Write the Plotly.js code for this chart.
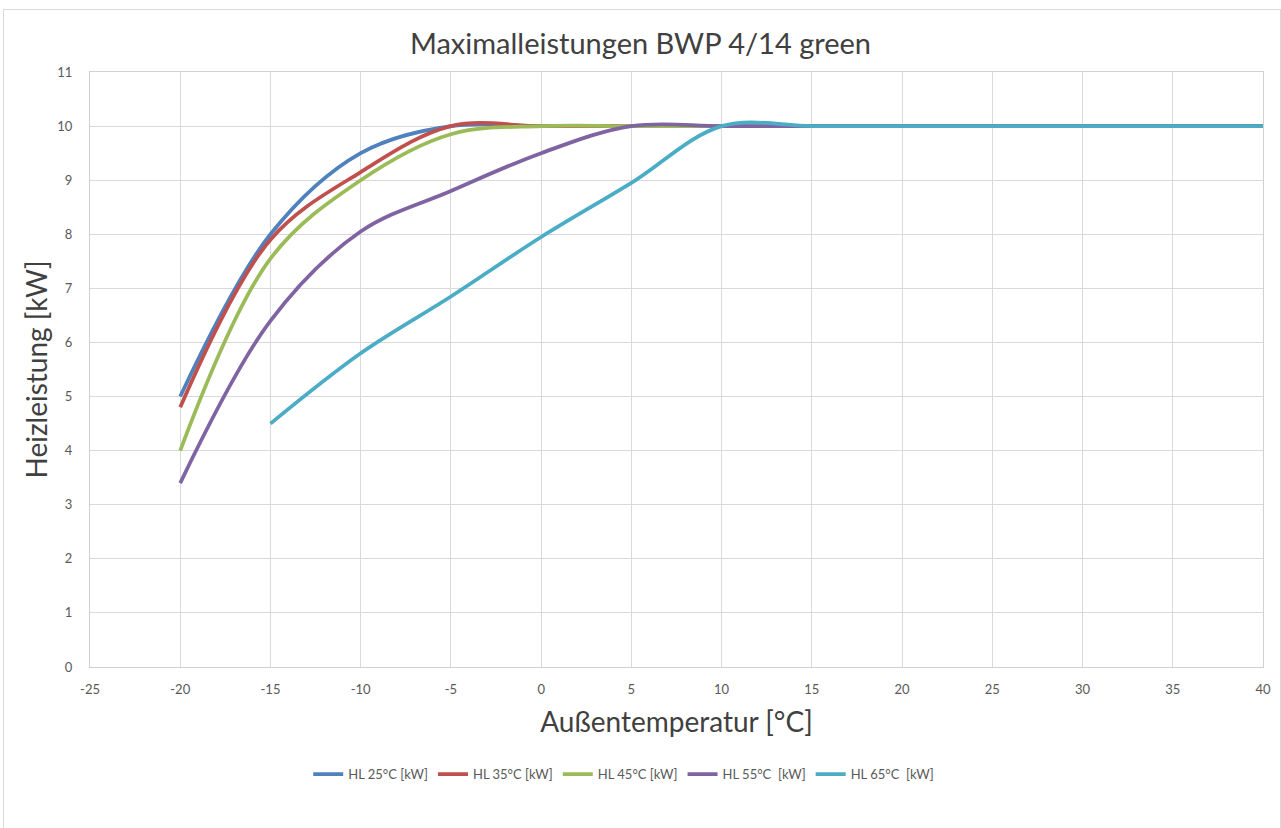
<!DOCTYPE html>
<html>
<head>
<meta charset="utf-8">
<script src="https://cdn.plot.ly/plotly-3.0.1.min.js"></script>
<style>
  html, body { margin: 0; padding: 0; background: #ffffff; }
  #frame { position: absolute; left: 3px; top: 9px; width: 1278px; height: 830px; border: 1px solid #d9d9d9; box-sizing: border-box; }
  #chart { position: absolute; left: 0; top: 0; width: 1281px; height: 828px; }
</style>
</head>
<body>
<div id="frame"></div>
<div id="chart"></div>
<script>
// Außentemperatur [°C]
const temps = [-20, -15, -10, -5, 0, 5, 10, 15, 20, 25, 30, 35, 40];
// Heizleistung [kW]
const hl25 = [5.0, 8.0, 9.5, 10.0, 10.0, 10.0, 10.0, 10.0, 10.0, 10.0, 10.0, 10.0, 10.0];
const hl35 = [4.8, 7.9, 9.15, 10.0, 10.0, 10.0, 10.0, 10.0, 10.0, 10.0, 10.0, 10.0, 10.0];
const hl45 = [4.0, 7.55, 9.0, 9.85, 10.0, 10.0, 10.0, 10.0, 10.0, 10.0, 10.0, 10.0, 10.0];
const hl55 = [3.4, 6.4, 8.05, 8.8, 9.5, 10.0, 10.0, 10.0, 10.0, 10.0, 10.0, 10.0, 10.0];
const hl65 = [null, 4.5, 5.8, 6.85, 7.95, 8.95, 10.0, 10.0, 10.0, 10.0, 10.0, 10.0, 10.0];

const seriesNames = ["HL 25°C [kW]", "HL 35°C [kW]", "HL 45°C [kW]", "HL 55°C  [kW]", "HL 65°C  [kW]"];
const seriesValues = [hl25, hl35, hl45, hl55, hl65];
const seriesColors = ["#4f81bd", "#c0504d", "#9bbb59", "#8064a2", "#4bacc6"];

const xTicks = [-25, -20, -15, -10, -5, 0, 5, 10, 15, 20, 25, 30, 35, 40];
const yTicks = [0, 1, 2, 3, 4, 5, 6, 7, 8, 9, 10, 11];

const traces = seriesValues.map((vals, i) => ({
  x: temps,
  y: vals,
  type: 'scatter',
  mode: 'lines',
  name: seriesNames[i],
  line: { color: seriesColors[i], width: 3.75, shape: 'spline', smoothing: 1 },
  hoverinfo: 'x+y+name'
}));

const font = "Lato, 'Open Sans', sans-serif";

const layout = {
  width: 1281,
  height: 828,
  paper_bgcolor: 'rgba(0,0,0,0)',
  plot_bgcolor: 'rgba(0,0,0,0)',
  margin: { l: 90, r: 18, t: 72, b: 161 },
  font: { family: font, color: '#595959' },
  title: {
    text: 'Maximalleistungen BWP 4/14 green',
    font: { family: font, size: 29, color: '#404040' },
    x: 0.5, xanchor: 'center',
    y: 1 - 44 / 828, yanchor: 'middle'
  },
  xaxis: {
    range: [-25, 40],
    tickvals: xTicks,
    ticktext: xTicks.map(String),
    showgrid: true,
    gridcolor: '#d9d9d9',
    gridwidth: 1,
    zeroline: false,
    showline: true,
    mirror: true,
    linecolor: '#d0d0d0',
    linewidth: 1,
    ticks: '',
    ticklabelstandoff: 10,
    tickfont: { family: font, size: 13, color: '#595959' },
    title: { text: 'Außentemperatur [°C]', font: { family: font, size: 28, color: '#404040' }, standoff: 16 },
    fixedrange: true
  },
  yaxis: {
    range: [0, 11],
    tickvals: yTicks,
    ticktext: yTicks.map(String),
    showgrid: true,
    gridcolor: '#d9d9d9',
    gridwidth: 1,
    zeroline: false,
    showline: true,
    mirror: true,
    linecolor: '#d0d0d0',
    linewidth: 1,
    ticks: '',
    ticklabelstandoff: 14,
    tickfont: { family: font, size: 13, color: '#595959' },
    title: { text: 'Heizleistung [kW]', font: { family: font, size: 28, color: '#404040' }, standoff: 1 },
    fixedrange: true
  },
  showlegend: true,
  legend: {
    orientation: 'h',
    x: 0.455, xanchor: 'center',
    y: -0.155, yanchor: 'top',
    font: { family: font, size: 13, color: '#595959' },
    itemwidth: 30,
    tracegroupgap: 0
  }
};

Plotly.newPlot('chart', traces, layout, { displayModeBar: false, staticPlot: true });
</script>
</body>
</html>
